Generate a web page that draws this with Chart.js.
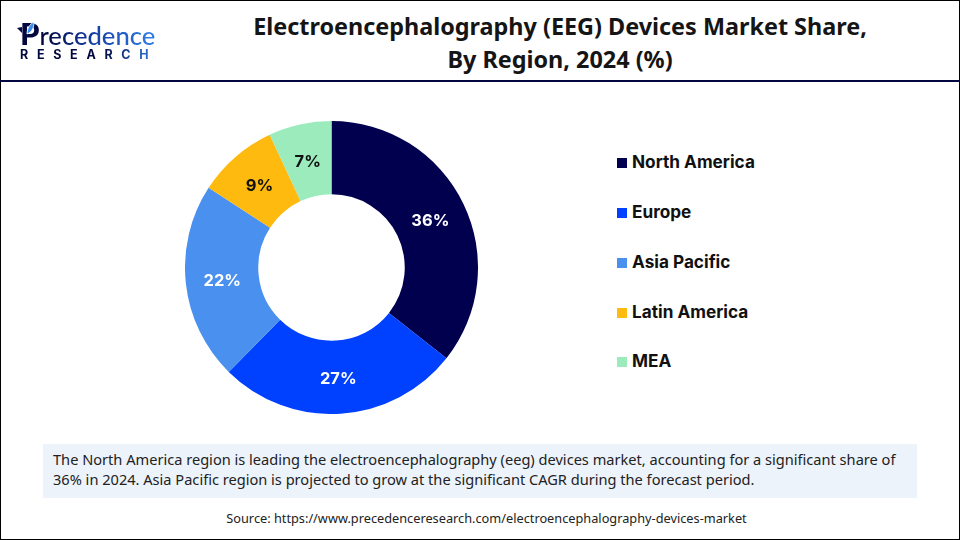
<!DOCTYPE html>
<html>
<head>
<meta charset="utf-8">
<script src="https://cdn.jsdelivr.net/npm/chart.js@4"></script>
<style>
  html, body { margin: 0; padding: 0; background: #fff; }
  #page { position: relative; width: 960px; height: 540px; overflow: hidden; font-family: "Noto Sans", sans-serif; outline: 1px solid #000; outline-offset: -1px; }
  #page div, #page svg { position: absolute; }
  #headerRule { left: 0; top: 80px; width: 960px; height: 2px; background: #03073f; }
  .title { left: 210px; width: 700px; text-align: center; font-size: 23.4px; font-weight: 700; color: #151515; white-space: nowrap; }
  #logoTop { left: 20px; top: 22px; font-family: Lato, sans-serif; font-weight: 500; font-size: 25.6px; line-height: 23px; white-space: nowrap;
    background: linear-gradient(90deg, #03073f 0%, #03073f 18%, #12389c 50%, #2f7fe8 100%); -webkit-background-clip: text; background-clip: text; -webkit-text-fill-color: transparent; }
  #logoTop span { font-weight: 900; font-size: 31px; line-height: 23px; }
  #logoBottom { left: 20px; top: 49px; font-family: Inter, sans-serif; font-weight: 700; font-size: 12.5px; letter-spacing: 8.7px; line-height: 12px;
    background: linear-gradient(90deg, #03073f 0%, #03073f 60%, #2f7fe8 100%); -webkit-background-clip: text; background-clip: text; -webkit-text-fill-color: transparent; }
  #chartBox { left: 185px; top: 121px; width: 293px; height: 293px; }
  .legendBox { left: 617px; width: 10px; height: 10px; }
  .legendText { left: 632px; font-family: Inter, sans-serif; font-weight: 700; font-size: 17.2px; line-height: 20px; color: #111; white-space: nowrap; }
  #note { left: 43px; top: 444px; width: 874px; height: 54px; background: #edf3fb; }
  .noteLine { left: 53px; font-size: 14.6px; line-height: 20px; color: #222; white-space: nowrap; }
  #source { left: 0; top: 510px; width: 973px; text-align: center; font-size: 12.76px; line-height: 16px; color: #222; }
</style>
</head>
<body>
<div id="page">
  <div id="logoTop"><span>P</span>recedence</div>
  <svg style="left:17px;top:19px" width="20" height="20" viewBox="0 0 20 20">
    <path d="M0 9 L5 8 L5 14 Z" fill="#03073f"/>
    <path d="M10 15 C10 9 13 5 17 3 C17 9 15 13 10 15 Z" fill="#3b8de8" stroke="#fff" stroke-width="0.8"/>
  </svg>
  <div id="logoBottom">RESEARCH</div>
  <div class="title" style="top:10px">Electroencephalography (EEG) Devices Market Share,</div>
  <div class="title" style="top:43px">By Region, 2024 (%)</div>
  <div id="headerRule"></div>
  <div id="chartBox"><canvas id="shareChart" width="293" height="293"></canvas></div>
  <div id="note"></div>
  <div class="noteLine" style="top:449px">The North America region is leading the electroencephalography (eeg) devices market, accounting for a significant share of</div>
  <div class="noteLine" style="top:469px">36% in 2024. Asia Pacific region is projected to grow at the significant CAGR during the forecast period.</div>
  <div id="source">Source: https://www.precedenceresearch.com/electroencephalography-devices-market</div>
</div>
<script>
const regions = ['North America', 'Europe', 'Asia Pacific', 'Latin America', 'MEA'];
const shares = [36, 27, 22, 9, 7];
const sliceColors = ['#00004f', '#0040ff', '#4a90ee', '#ffba0f', '#9bebbd'];
const labelColors = ['#fff', '#fff', '#fff', '#111', '#111'];
const legendTops = [152, 202, 252, 302, 351];

// legend sits to the right of the doughnut, spaced by hand like the original
const page = document.getElementById('page');
regions.forEach((name, i) => {
  const box = document.createElement('div');
  box.className = 'legendBox';
  box.style.top = (legendTops[i] + 6) + 'px';
  box.style.background = sliceColors[i];
  page.appendChild(box);
  const text = document.createElement('div');
  text.className = 'legendText';
  text.style.top = legendTops[i] + 'px';
  text.textContent = name;
  page.appendChild(text);
});

const sliceLabels = {
  id: 'sliceLabels',
  afterDatasetsDraw(chart) {
    const { ctx } = chart;
    ctx.save();
    ctx.font = '700 16.5px Inter, sans-serif';
    ctx.textAlign = 'center';
    ctx.textBaseline = 'middle';
    chart.getDatasetMeta(0).data.forEach((arc, i) => {
      const pos = arc.tooltipPosition();
      ctx.fillStyle = labelColors[i];
      ctx.fillText(shares[i] + '%', pos.x, pos.y + 1.5);
    });
    ctx.restore();
  }
};

new Chart(document.getElementById('shareChart').getContext('2d'), {
  type: 'doughnut',
  data: {
    labels: regions,
    datasets: [{ data: shares, backgroundColor: sliceColors, borderWidth: 0 }]
  },
  options: {
    responsive: false,
    animation: false,
    cutout: '50%',
    plugins: { legend: { display: false }, tooltip: { enabled: false } }
  },
  plugins: [sliceLabels]
});
</script>
</body>
</html>
